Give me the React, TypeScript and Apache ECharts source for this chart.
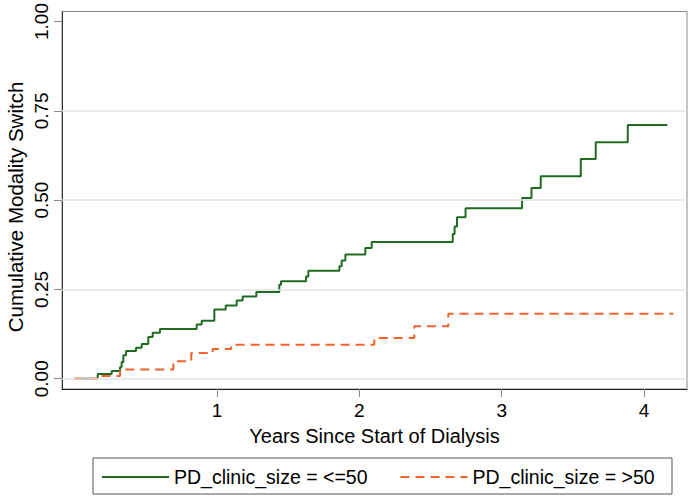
import React, { useEffect, useRef } from "react";
import * as echarts from "echarts";

// Kaplan-Meier style cumulative incidence (step) data
const smallTimes = [0, 0.163, 0.261, 0.32, 0.331, 0.343, 0.362, 0.432, 0.472, 0.518, 0.549, 0.6, 0.858, 0.893, 0.982, 1.062, 1.139, 1.181, 1.277, 1.438, 1.45, 1.626, 1.642, 1.86, 1.876, 1.902, 2.042, 2.087, 2.656, 2.669, 2.686, 2.746, 3.143, 3.209, 3.274, 3.555, 3.66, 3.885, 4.163];
const smallValues = [0, 0.013, 0.022, 0.033, 0.047, 0.066, 0.078, 0.087, 0.097, 0.117, 0.129, 0.139, 0.152, 0.162, 0.194, 0.205, 0.219, 0.23, 0.243, 0.263, 0.273, 0.286, 0.302, 0.315, 0.331, 0.348, 0.366, 0.383, 0.405, 0.426, 0.452, 0.477, 0.506, 0.534, 0.567, 0.615, 0.662, 0.71, 0.71];

const largeTimes = [0, 0.16, 0.32, 0.694, 0.82, 0.97, 1.1, 2.105, 2.386, 2.625, 4.205];
const largeValues = [0, 0.008, 0.026, 0.049, 0.072, 0.083, 0.095, 0.114, 0.147, 0.182, 0.182];

const seriesNames = ["PD_clinic_size = <=50", "PD_clinic_size = >50"];
const xTickValues = [1, 2, 3, 4];
const yTickValues = [0, 0.25, 0.5, 0.75, 1];
const gridLineValues = [0, 0.25, 0.5, 0.75];

const xTitle = "Years Since Start of Dialysis";
const yTitle = "Cumulative Modality Switch";

const FONT = "'Liberation Sans', Arial, Helvetica, sans-serif";

export default function App() {
  const ref = useRef<HTMLDivElement>(null);

  useEffect(() => {
    if (!ref.current) return;
    const chart = echarts.init(ref.current, undefined, { renderer: "svg" });
    const zip = (t: number[], v: number[]) => t.map((x, i) => [x, v[i]]);

    chart.setOption({
      animation: false,
      backgroundColor: "#ffffff",
      textStyle: { fontFamily: FONT, color: "#000" },
      grid: {
        left: 62,
        right: 5,
        top: 10,
        bottom: 109,
        show: true,
        borderColor: "#8a8a8a",
        borderWidth: 1,
        containLabel: false,
      },
      xAxis: {
        type: "value",
        min: -0.0878,
        max: 4.301,
        axisLine: { show: true, onZero: false, lineStyle: { color: "#1a1a1a", width: 1 } },
        axisTick: { show: true, customValues: xTickValues, length: 8, lineStyle: { color: "#8a8a8a" } },
        axisLabel: {
          show: true,
          customValues: xTickValues,
          fontSize: 19,
          color: "#000",
          fontFamily: FONT,
          margin: 12,
        },
        splitLine: { show: false },
        name: xTitle,
        nameLocation: "middle",
        nameGap: 37,
        nameTextStyle: { fontSize: 20, color: "#000", fontFamily: FONT },
      },
      yAxis: {
        type: "value",
        min: -0.0287,
        max: 1.028,
        axisLine: { show: true, onZero: false, lineStyle: { color: "#333", width: 1 } },
        axisTick: { show: true, customValues: yTickValues, length: 8, lineStyle: { color: "#8a8a8a" } },
        axisLabel: {
          show: true,
          customValues: yTickValues,
          rotate: 90,
          fontSize: 19,
          color: "#000",
          fontFamily: FONT,
          margin: 11,
          formatter: (v: number) => v.toFixed(2),
        },
        splitLine: { show: false },
      },
      legend: {
        data: seriesNames,
        left: 101,
        top: 467,
        padding: 0,
        itemWidth: 67,
        itemHeight: 14,
        itemGap: 32,
        itemStyle: { color: "rgba(0,0,0,0)", borderWidth: 0, opacity: 0 },
        textStyle: { fontSize: 19.5, color: "#000", fontFamily: FONT },
      },
      graphic: [
        {
          type: "rect",
          shape: { x: 93, y: 458, width: 579, height: 36 },
          style: { fill: "none", stroke: "#555", lineWidth: 1 },
          silent: true,
        },
        {
          type: "text",
          x: 15,
          y: 207,
          rotation: Math.PI / 2,
          style: {
            text: yTitle,
            fontSize: 20.5,
            fontFamily: FONT,
            fill: "#000",
            align: "center",
            verticalAlign: "middle",
          },
          silent: true,
        },
      ],
      series: [
        {
          name: "grid",
          type: "line",
          data: [[0, 0]],
          symbol: "none",
          lineStyle: { opacity: 0 },
          z: 1,
          silent: true,
          markLine: {
            silent: true,
            symbol: "none",
            label: { show: false },
            lineStyle: { color: "#e3e3e3", width: 1.5, type: "solid" },
            data: gridLineValues.map((v) => ({ yAxis: v })),
          },
        },
        {
          name: seriesNames[0],
          type: "line",
          step: "end",
          data: zip(smallTimes, smallValues),
          symbol: "none",
          z: 3,
          lineStyle: { color: "#1f6b22", width: 2 },
          itemStyle: { color: "#1f6b22" },
        },
        {
          name: seriesNames[1],
          type: "line",
          step: "end",
          data: zip(largeTimes, largeValues),
          symbol: "none",
          z: 4,
          lineStyle: { color: "#f2622c", width: 2, type: [9, 6] },
          itemStyle: { color: "#f2622c" },
        },
      ],
    });

    return () => chart.dispose();
  }, []);

  return (
    <div
      ref={ref}
      style={{ position: "fixed", left: 0, top: 0, width: 692, height: 498, background: "#fff" }}
    />
  );
}
